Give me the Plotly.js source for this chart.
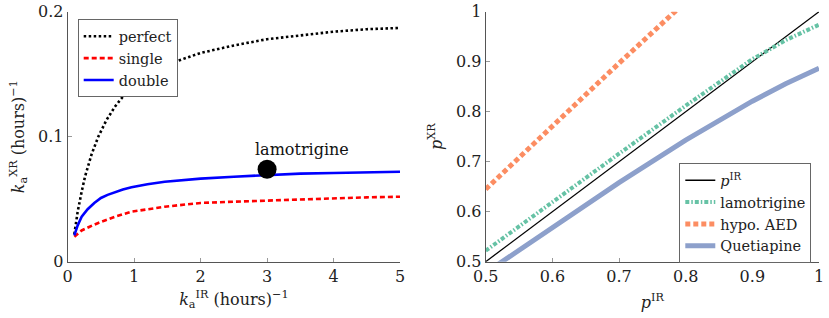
<!DOCTYPE html>
<html>
<head>
<meta charset="utf-8">
<script src="https://cdn.plot.ly/plotly-3.0.1.min.js"></script>
<style>html,body{margin:0;padding:0;background:#fff;}#plot{width:829px;height:318px;}</style>
</head>
<body>
<div id="plot"></div>
<script>
// ---- Left panel data ----
const perfectX = [0.1, 0.15, 0.21, 0.26, 0.36, 0.46, 0.58, 0.71, 0.83, 0.96, 1.25, 1.51, 2.0, 2.5, 3.0, 3.5, 4.0, 4.5, 5.0];
const perfectY = [0.022, 0.040, 0.056, 0.068, 0.086, 0.100, 0.113, 0.124, 0.132, 0.139, 0.150, 0.158, 0.167, 0.173, 0.178, 0.181, 0.184, 0.186, 0.187];
const singleX = [0.1, 0.21, 0.33, 0.46, 0.71, 0.96, 1.46, 2.0, 2.5, 3.0, 3.5, 4.0, 4.5, 5.0];
const singleY = [0.020, 0.025, 0.028, 0.031, 0.036, 0.040, 0.044, 0.047, 0.048, 0.049, 0.050, 0.051, 0.0515, 0.052];
const doubleX = [0.1, 0.15, 0.21, 0.3, 0.4, 0.5, 0.6, 0.71, 0.83, 0.96, 1.2, 1.46, 2.0, 2.5, 3.0, 3.5, 4.0, 4.5, 5.0];
const doubleY = [0.021, 0.029, 0.036, 0.042, 0.047, 0.051, 0.0535, 0.0558, 0.0578, 0.0595, 0.062, 0.064, 0.0665, 0.068, 0.0695, 0.0705, 0.071, 0.0715, 0.072];
const lamoPointX = [3.0];
const lamoPointY = [0.074];
const lamoLabel = "lamotrigine";

// ---- Right panel data ----
const pirX = [0.5, 1.0];
const pirY = [0.5, 1.0];
const lamoX = [0.5, 0.6, 0.7, 0.8, 0.9, 0.95, 1.0];
const lamoY = [0.522, 0.62, 0.716, 0.812, 0.905, 0.943, 0.974];
const hypoX = [0.5, 0.6, 0.7, 0.8];
const hypoY = [0.645, 0.772, 0.897, 1.02];
const quetX = [0.5, 0.6, 0.7, 0.8, 0.85, 0.9, 0.95, 1.0];
const quetY = [0.478, 0.567, 0.658, 0.743, 0.783, 0.821, 0.856, 0.887];

const FONT = "DejaVu Serif";
const W = 829, H = 318;

const traces = [
  {x: perfectX, y: perfectY, name: "perfect", mode: "lines", line: {color: "#000", width: 2.6, dash: "2.5px,2.5px"}, xaxis: "x", yaxis: "y", legend: "legend"},
  {x: singleX, y: singleY, name: "single", mode: "lines", line: {color: "#ff0000", width: 2.6, dash: "5px,3px"}, xaxis: "x", yaxis: "y", legend: "legend"},
  {x: doubleX, y: doubleY, name: "double", mode: "lines", line: {color: "#0000ff", width: 2.6}, xaxis: "x", yaxis: "y", legend: "legend"},
  {x: lamoPointX, y: lamoPointY, mode: "markers", marker: {color: "#000", size: 19}, showlegend: false, xaxis: "x", yaxis: "y", cliponaxis: false},
  {x: pirX, y: pirY, name: "<i>p</i><sup>IR</sup>", mode: "lines", line: {color: "#000", width: 1.3}, xaxis: "x2", yaxis: "y2", legend: "legend2"},
  {x: lamoX, y: lamoY, name: "lamotrigine", mode: "lines", line: {color: "#66c2a5", width: 4, dash: "4px,2px,1.5px,2px"}, xaxis: "x2", yaxis: "y2", legend: "legend2"},
  {x: hypoX, y: hypoY, name: "hypo. AED", mode: "lines", line: {color: "#fc8d62", width: 5, dash: "5px,3px"}, xaxis: "x2", yaxis: "y2", legend: "legend2"},
  {x: quetX, y: quetY, name: "Quetiapine", mode: "lines", line: {color: "#8da0cb", width: 5}, xaxis: "x2", yaxis: "y2", legend: "legend2"}
];

const axisCommon = {
  showgrid: false, zeroline: false, showline: true, linecolor: "#555", linewidth: 1,
  ticks: "inside", ticklen: 4, tickcolor: "#999", tickwidth: 1,
  tickfont: {family: FONT, size: 16, color: "#222"}, fixedrange: true
};
const yDom = [56.3 / H, 1 - 11.7 / H];
const titleFont = {family: FONT, size: 16, color: "#222"};
const legFont = {family: FONT, size: 14.5, color: "#222"};

const layout = {
  width: W, height: H,
  margin: {l: 0, r: 0, t: 0, b: 0},
  paper_bgcolor: "#fff", plot_bgcolor: "rgba(0,0,0,0)",
  showlegend: true,
  font: {family: FONT, size: 16, color: "#222"},
  xaxis: Object.assign({}, axisCommon, {domain: [67.7 / W, 400 / W], range: [0, 5], dtick: 1, anchor: "y",
    title: {text: "<i>k</i><sub>a</sub><sup>IR</sup> (hours)<sup>−1</sup>", font: titleFont, standoff: 8}}),
  yaxis: Object.assign({}, axisCommon, {domain: yDom, range: [0, 0.2], dtick: 0.1, anchor: "x",
    title: {text: "<i>k</i><sub>a</sub><sup>XR</sup> (hours)<sup>−1</sup>", font: titleFont, standoff: 9}}),
  xaxis2: Object.assign({}, axisCommon, {domain: [485.7 / W, 819 / W], range: [0.5, 1], dtick: 0.1, anchor: "y2",
    title: {text: "<i>p</i><sup>IR</sup>", font: titleFont, standoff: 11}}),
  yaxis2: Object.assign({}, axisCommon, {domain: yDom, range: [0.5, 1], dtick: 0.1, anchor: "x2",
    title: {text: "<i>p</i><sup>XR</sup>", font: titleFont, standoff: 9}}),
  annotations: [
    {x: 3.52, y: 0.0895, xref: "x", yref: "y", text: lamoLabel, showarrow: false, xanchor: "center", yanchor: "middle",
     font: {family: FONT, size: 16, color: "#111"}}
  ],
  legend: {x: 77.7 / W, y: 1 - 19.3 / H, xanchor: "left", yanchor: "top", bgcolor: "#fff",
    bordercolor: "#666", borderwidth: 1, font: legFont, itemwidth: 30, tracegroupgap: 0},
  legend2: {x: 679.3 / W, y: 1 - 163.3 / H, xanchor: "left", yanchor: "top", bgcolor: "#fff",
    bordercolor: "#666", borderwidth: 1, font: legFont, itemwidth: 30, tracegroupgap: 0}
};

Plotly.newPlot("plot", traces, layout, {staticPlot: true, displayModeBar: false});
</script>
</body>
</html>
